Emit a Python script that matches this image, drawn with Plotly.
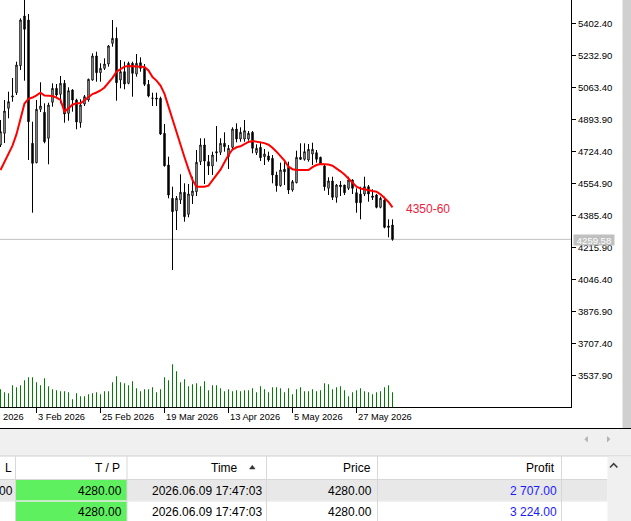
import plotly.graph_objects as go

# ---------------- data ----------------
opens = [4758.6, 4820.5, 4952.8, 5012.6, 5035.3, 5178.1, 5441.1, 5419.9, 4767.6, 4665.0,
         4947.5, 4931.6, 4794.1, 4984.5, 5058.6, 5026.9, 5085.0, 4926.3, 5049.6, 4996.7,
         4876.6, 4975.5, 4996.7, 5102.5, 5229.5, 5141.1, 5164.4, 5187.1, 5296.6, 5323.1,
         5102.5, 5146.4, 5085.0, 5190.8, 5134.2, 5194.0, 5164.4, 5079.8, 5007.3, 5007.3,
         5005.7, 4820.5, 4652.8, 4476.7, 4411.1, 4467.7, 4508.4, 4392.1, 4490.4, 4511.6,
         4670.3, 4758.6, 4670.3, 4647.6, 4723.2, 4720.0, 4767.6, 4696.8, 4746.5, 4843.3,
         4790.4, 4790.4, 4790.4, 4825.8, 4717.9, 4746.5, 4696.8, 4700.5, 4688.3, 4599.9,
         4543.3, 4630.1, 4640.7, 4520.6, 4559.2, 4693.6, 4683.0, 4679.3, 4711.0, 4717.9,
         4693.6, 4647.6, 4529.6, 4568.2, 4482.0, 4547.0, 4547.0, 4529.6, 4573.5, 4506.3,
         4499.4, 4499.4, 4538.1, 4488.9, 4494.1, 4429.1, 4467.7, 4330.2, 4335.4]
highs = [4890.9, 4996.7, 5040.6, 5113.1, 5199.3, 5428.9, 5552.0, 5451.6, 4881.9, 4996.7,
         5090.3, 4979.2, 4982.4, 5085.0, 5081.3, 5123.7, 5102.5, 5063.9, 5053.3, 5003.6,
         5000.4, 5023.1, 5109.4, 5243.7, 5252.2, 5190.8, 5217.3, 5287.6, 5419.9, 5381.3,
         5208.3, 5199.3, 5199.3, 5199.3, 5240.0, 5222.6, 5187.1, 5102.5, 5035.3, 5035.3,
         5014.2, 4869.7, 4696.8, 4538.1, 4488.9, 4603.7, 4556.1, 4552.3, 4591.0, 4732.2,
         4794.1, 4794.1, 4705.7, 4723.2, 4859.2, 4794.1, 4825.8, 4758.6, 4852.3, 4873.4,
         4852.3, 4890.9, 4832.7, 4832.7, 4762.4, 4776.1, 4737.5, 4723.2, 4705.7, 4617.4,
         4665.0, 4670.3, 4670.3, 4573.5, 4728.5, 4767.6, 4767.6, 4763.9, 4770.8, 4732.2,
         4696.8, 4652.8, 4587.8, 4591.0, 4552.3, 4568.2, 4547.0, 4591.0, 4577.2, 4529.6,
         4538.1, 4591.0, 4547.0, 4524.3, 4499.4, 4485.2, 4485.2, 4365.6, 4365.6]
lows = [4748.1, 4769.2, 4899.9, 4987.7, 5023.1, 5155.4, 5098.8, 4679.3, 4400.5, 4661.8,
        4933.2, 4767.6, 4656.6, 4961.3, 5014.2, 4979.2, 4876.6, 4887.2, 4934.8, 4841.7,
        4850.2, 4965.0, 4987.7, 5098.8, 5093.5, 5093.5, 5155.4, 5172.9, 5278.7, 4993.0,
        5058.6, 5053.3, 5079.8, 5014.2, 5120.0, 5146.4, 5070.8, 5011.0, 4965.0, 4965.0,
        4811.5, 4643.9, 4476.7, 4097.4, 4309.0, 4446.5, 4352.9, 4376.2, 4446.5, 4488.9,
        4652.8, 4552.3, 4599.9, 4599.9, 4670.3, 4705.7, 4723.2, 4631.7, 4737.5, 4772.9,
        4776.1, 4776.1, 4781.4, 4714.7, 4705.7, 4674.0, 4652.8, 4670.3, 4556.0, 4511.6,
        4538.1, 4547.0, 4499.4, 4511.6, 4556.0, 4679.3, 4675.6, 4670.3, 4652.8, 4665.0,
        4652.8, 4516.9, 4494.1, 4467.7, 4453.4, 4488.9, 4494.1, 4520.6, 4499.4, 4400.5,
        4365.6, 4488.9, 4458.7, 4467.7, 4423.8, 4423.8, 4318.0, 4270.4, 4252.4]
closes = [4829.0, 4938.5, 4987.7, 5017.9, 5181.8, 5419.9, 5370.7, 4881.9, 4661.8, 4947.5,
          4965.0, 4776.1, 4970.2, 5058.6, 5023.1, 5085.0, 4922.6, 5045.9, 4996.7, 4880.3,
          4970.2, 5014.2, 5106.2, 5229.5, 5141.1, 5164.4, 5187.1, 5282.4, 5323.1, 5088.2,
          5146.4, 5081.3, 5190.8, 5137.9, 5190.8, 5164.4, 5079.8, 5017.9, 5005.7, 5002.0,
          4816.8, 4649.1, 4494.1, 4405.8, 4476.7, 4508.4, 4379.4, 4499.4, 4515.3, 4667.1,
          4758.6, 4674.0, 4647.6, 4705.7, 4717.9, 4767.6, 4749.7, 4741.2, 4843.3, 4790.4,
          4825.8, 4834.3, 4820.5, 4741.2, 4741.2, 4691.5, 4711.0, 4679.3, 4599.9, 4543.3,
          4626.4, 4617.4, 4520.6, 4564.5, 4693.6, 4683.0, 4723.2, 4735.9, 4735.9, 4683.0,
          4658.1, 4538.1, 4568.2, 4482.0, 4547.0, 4538.1, 4506.3, 4573.5, 4529.6, 4453.4,
          4453.4, 4538.1, 4499.4, 4482.0, 4429.1, 4476.7, 4323.3, 4323.3, 4259.58]
ma_values = [4626.4, 4668.7, 4712.1, 4755.5, 4815.8, 4896.7, 4978.2, 5003.0, 5009.9, 5021.6,
             5035.3, 5020.5, 5017.9, 5017.9, 5008.9, 4996.7, 4934.8, 4954.4, 4971.8, 4979.2,
             4979.2, 4995.1, 5011.0, 5028.4, 5036.4, 5047.0, 5062.8, 5085.6, 5114.1, 5146.4,
             5162.3, 5173.4, 5176.0, 5175.0, 5172.9, 5175.0, 5171.3, 5152.8, 5117.8, 5099.3,
             5072.9, 5029.0, 4961.3, 4890.9, 4820.5, 4757.1, 4694.1, 4631.2, 4573.5, 4538.1,
             4538.1, 4538.1, 4543.3, 4571.9, 4599.9, 4628.5, 4667.1, 4705.7, 4734.8, 4746.5,
             4751.8, 4763.9, 4775.0, 4780.3, 4776.1, 4771.9, 4768.7, 4760.2, 4744.4, 4723.2,
             4702.0, 4675.6, 4643.9, 4630.6, 4626.4, 4626.4, 4626.4, 4626.4, 4641.2, 4652.8,
             4657.6, 4657.1, 4655.0, 4649.1, 4635.4, 4619.5, 4602.1, 4580.4, 4559.2, 4538.1,
             4528.5, 4522.7, 4518.5, 4514.8, 4511.6, 4497.9, 4478.3, 4457.1, 4429.1]
volumes = [177, 147, 137, 217, 197, 217, 267, 297, 297, 247,
           217, 287, 207, 177, 167, 157, 157, 147, 77, 137,
           107, 107, 127, 137, 147, 127, 157, 157, 247, 307,
           247, 237, 217, 257, 187, 157, 177, 177, 197, 147,
           177, 297, 267, 427, 357, 247, 277, 207, 227, 237,
           207, 257, 167, 217, 217, 187, 157, 177, 157, 167,
           157, 167, 167, 187, 147, 207, 177, 147, 197, 197,
           187, 147, 187, 127, 177, 197, 157, 157, 177, 157,
           167, 237, 227, 177, 197, 207, 167, 107, 147, 167,
           187, 157, 147, 127, 147, 157, 197, 217, 147]

price_ticks = [5402.40, 5232.90, 5063.40, 4893.90, 4724.40, 4554.90, 4385.40,
               4215.90, 4046.40, 3876.90, 3707.40, 3537.90]
date_tick_idx = [9, 25, 41, 57, 73, 89]
date_tick_labels = ["3 Feb 2026", "25 Feb 2026", "19 Mar 2026",
                    "13 Apr 2026", "5 May 2026", "27 May 2026"]
cut_date_label = "2026"          # visible tail of the label left of "3 Feb 2026"
note_text = "4350-60"
note_pos = (101, 4420)

table_headers = ["L", "T / P", "Time", "Price", "Profit"]
sl_values = ["00", ""]
tp_values = ["4280.00", "4280.00"]
time_values = ["2026.06.09 17:47:03", "2026.06.09 17:47:03"]
price_values = ["4280.00", "4280.00"]
profit_values = ["2 707.00", "3 224.00"]

# ---------------- geometry ----------------
W, H = 631, 521
ML, MR, MT, MB = 0, 60, 0, 114
PW, PH = W - ML - MR, H - MT - MB
XR = [-0.125, 142.625]
YR = [3372.7, 5525.7]
FONT = "Liberation Sans, Arial, sans-serif"


def px(x):
    return (x - ML) / PW


def py(y):
    return 1 - (y - MT) / PH


def ix(i):
    return (i - XR[0]) / (XR[1] - XR[0])


idx = list(range(len(closes)))

fig = go.Figure()
fig.add_trace(go.Bar(x=idx, y=volumes, yaxis="y2", width=0.25,
                     marker=dict(color="#008000", line=dict(width=0)),
                     hoverinfo="skip", showlegend=False))
fig.add_trace(go.Candlestick(
    x=idx, open=opens, high=highs, low=lows, close=closes,
    increasing=dict(line=dict(color="black", width=1), fillcolor="white"),
    decreasing=dict(line=dict(color="black", width=1), fillcolor="black"),
    whiskerwidth=0, hoverinfo="skip", showlegend=False))
fig.add_trace(go.Scatter(x=idx, y=ma_values, mode="lines",
                         line=dict(color="#ff0000", width=2),
                         hoverinfo="skip", showlegend=False))

shapes = []
annotations = []

# last price line
shapes.append(dict(type="line", xref="paper", yref="y", x0=0, x1=1,
                   y0=closes[-1], y1=closes[-1], layer="below",
                   line=dict(color="#c0c0c0", width=1)))
# right grey strip
shapes.append(dict(type="rect", xref="paper", yref="paper", x0=px(622.5), x1=px(632),
                   y0=py(428), y1=py(-1), line=dict(width=0), fillcolor="#d0d0d0"))
# toolbar background
shapes.append(dict(type="rect", xref="paper", yref="paper", x0=px(-1), x1=px(632),
                   y0=py(456), y1=py(428.5), line=dict(width=0), fillcolor="#f0f0f0"))
# separator black line
shapes.append(dict(type="line", xref="paper", yref="paper", x0=px(-1), x1=px(632),
                   y0=py(428.5), y1=py(428.5), line=dict(color="black", width=1.2)))
# toolbar arrows
shapes.append(dict(type="path", xref="paper", yref="paper",
                   path=f"M {px(587.3)},{py(436.7)} L {px(585)},{py(439.2)} L {px(587.3)},{py(441.7)} Z",
                   fillcolor="#b4b4b4", line=dict(color="#b4b4b4", width=1)))
shapes.append(dict(type="path", xref="paper", yref="paper",
                   path=f"M {px(607.5)},{py(436.7)} L {px(609.8)},{py(439.2)} L {px(607.5)},{py(441.7)} Z",
                   fillcolor="#b4b4b4", line=dict(color="#b4b4b4", width=1)))
# header line
shapes.append(dict(type="line", xref="paper", yref="paper", x0=px(-1), x1=px(632),
                   y0=py(456), y1=py(456), line=dict(color="#d0d0d0", width=1)))
# row 1 background
shapes.append(dict(type="rect", xref="paper", yref="paper", x0=px(-1), x1=px(607.5),
                   y0=py(500.5), y1=py(479.5), line=dict(width=0), fillcolor="#e8e8e8"))
# green T/P cells
for r0, r1 in [(479.5, 500.5), (501.5, 522)]:
    shapes.append(dict(type="rect", xref="paper", yref="paper", x0=px(15.5), x1=px(127),
                       y0=py(r1), y1=py(r0), line=dict(width=0), fillcolor="#5ef05e"))
# header bottom + row separator
shapes.append(dict(type="line", xref="paper", yref="paper", x0=px(-1), x1=px(607.5),
                   y0=py(479.5), y1=py(479.5), line=dict(color="#d8d8d8", width=1)))
shapes.append(dict(type="line", xref="paper", yref="paper", x0=px(-1), x1=px(607.5),
                   y0=py(501), y1=py(501), line=dict(color="#e2e2e2", width=1)))
# column separators
for cx in [15.5, 127, 266.5, 377.5, 561.5]:
    shapes.append(dict(type="line", xref="paper", yref="paper", x0=px(cx), x1=px(cx),
                       y0=py(522), y1=py(456), line=dict(color="#d8d8d8", width=1)))
# scrollbar
shapes.append(dict(type="rect", xref="paper", yref="paper", x0=px(607.5), x1=px(632),
                   y0=py(522), y1=py(456.5), line=dict(width=0), fillcolor="#f0f0f0"))
shapes.append(dict(type="path", xref="paper", yref="paper",
                   path=f"M {px(610)},{py(467.5)} L {px(613.7)},{py(463.7)} L {px(617.4)},{py(467.5)}",
                   line=dict(color="#404040", width=1.6)))
# sort arrow
shapes.append(dict(type="path", xref="paper", yref="paper",
                   path=f"M {px(249.5)},{py(469)} L {px(252.3)},{py(465.2)} L {px(255.1)},{py(469)} Z",
                   fillcolor="#333333", line=dict(color="#333333", width=0.5)))

# date labels
DF = dict(family=FONT, size=9.3, color="black")
for i, lab in zip(date_tick_idx, date_tick_labels):
    annotations.append(dict(x=ix(i), xref="paper", y=py(416.5), yref="paper",
                            xanchor="left", yanchor="middle", text=lab, showarrow=False,
                            borderpad=0, font=DF))
annotations.append(dict(x=px(2), xref="paper", y=py(416.5), yref="paper",
                        xanchor="left", yanchor="middle", text=cut_date_label,
                        showarrow=False, borderpad=0, font=DF))
# last price tag
annotations.append(dict(x=px(573), xref="paper", y=closes[-1], yref="y",
                        xanchor="left", yanchor="middle", text=f"{closes[-1]:.2f}",
                        showarrow=False, bgcolor="#c0c0c0", width=40, height=10,
                        borderpad=0, yshift=-0.5,
                        font=dict(family=FONT, size=9.5, color="white")))
# note text
annotations.append(dict(x=note_pos[0], xref="x", y=note_pos[1], yref="y",
                        xanchor="left", yanchor="middle", text=note_text, showarrow=False,
                        borderpad=0, font=dict(family=FONT, size=12, color="#ee1c3c")))

# table text
TF = dict(family=FONT, size=12, color="#000000")
header_right = [12.8, 121, 238.5, 371.5, 556]
for t, xr in zip(table_headers, header_right):
    annotations.append(dict(x=px(xr), xref="paper", y=py(467.5), yref="paper",
                            xanchor="right", yanchor="middle", text=t, showarrow=False,
                            borderpad=0, font=TF))
rows_y = [490.5, 511.5]
for r, ycen in enumerate(rows_y):
    cells = [(sl_values[r], 14, "#000000"), (tp_values[r], 122.5, "#000000"),
             (time_values[r], 262.5, "#000000"), (price_values[r], 373.5, "#000000"),
             (profit_values[r], 558, "#1a1aff")]
    for txt, xr, col in cells:
        if txt:
            annotations.append(dict(x=px(xr), xref="paper", y=py(ycen), yref="paper",
                                    xanchor="right", yanchor="middle", text=txt,
                                    showarrow=False, borderpad=0,
                                    font=dict(family=FONT, size=12, color=col)))

fig.update_layout(
    width=W, height=H,
    margin=dict(l=ML, r=MR, t=MT, b=MB, pad=0),
    paper_bgcolor="white", plot_bgcolor="white",
    showlegend=False, hovermode=False,
    boxgap=0.5,
    font=dict(family=FONT, size=9.5, color="black"),
    xaxis=dict(range=XR, showgrid=False, zeroline=False, showline=True,
               linecolor="black", linewidth=1, ticks="outside", ticklen=5,
               tickcolor="black", tickwidth=1, tickvals=date_tick_idx,
               showticklabels=False, rangeslider=dict(visible=False),
               automargin=False, fixedrange=True),
    yaxis=dict(range=YR, side="right", showgrid=False, zeroline=False,
               showline=True, linecolor="black", linewidth=1, ticks="outside",
               ticklen=4, tickcolor="black", tickwidth=1,
               tickvals=price_ticks, ticktext=[f"{v:.2f}" for v in price_ticks],
               tickfont=dict(family=FONT, size=9.5, color="black"),
               automargin=False, fixedrange=True),
    yaxis2=dict(range=[0, 4070], overlaying="y", visible=False, fixedrange=True),
    shapes=shapes, annotations=annotations,
)

fig.write_html("out.html", config={"displayModeBar": False})
